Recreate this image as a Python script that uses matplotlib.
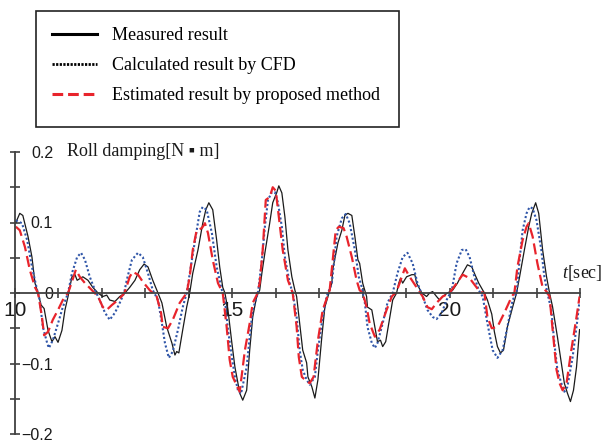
import matplotlib
matplotlib.use('Agg')
import matplotlib.pyplot as plt
from matplotlib.lines import Line2D
from matplotlib.patches import Rectangle

plt.rcParams['mathtext.fontset'] = 'custom'
plt.rcParams['mathtext.it'] = 'Liberation Serif:italic'
plt.rcParams['mathtext.rm'] = 'Liberation Serif'

# measured result (black solid)
t_meas = [10.02, 10.11, 10.18, 10.30, 10.39, 10.46, 10.53, 10.60, 10.67, 10.76,
          10.85, 10.92, 10.99, 11.08, 11.15, 11.22, 11.31, 11.38, 11.43, 11.56,
          11.68, 11.79, 11.91, 12.02, 12.11, 12.18, 12.30, 12.41, 12.53, 12.64,
          12.76, 12.87, 12.97, 13.06, 13.17, 13.29, 13.38, 13.49, 13.61, 13.68,
          13.72, 13.77, 13.86, 13.95, 14.02, 14.09, 14.21, 14.32, 14.39, 14.46,
          14.55, 14.64, 14.71, 14.78, 14.83, 14.90, 14.99, 15.06, 15.13, 15.17,
          15.24, 15.33, 15.40, 15.47, 15.56, 15.63, 15.68, 15.75, 15.86, 15.93,
          16.02, 16.07, 16.14, 16.21, 16.28, 16.37, 16.44, 16.48, 16.55, 16.62,
          16.71, 16.74, 16.83, 16.90, 16.97, 17.06, 17.13, 17.20, 17.29, 17.31,
          17.43, 17.52, 17.59, 17.66, 17.75, 17.82, 17.89, 17.93, 18.00, 18.09,
          18.11, 18.21, 18.28, 18.34, 18.41, 18.46, 18.53, 18.60, 18.69, 18.78,
          18.83, 18.87, 18.92, 19.01, 19.13, 19.20, 19.24, 19.36, 19.47, 19.54,
          19.61, 19.70, 19.77, 19.84, 19.95, 20.07, 20.18, 20.30, 20.41, 20.51,
          20.57, 20.67, 20.80, 20.87, 20.97, 21.03, 21.10, 21.17, 21.24, 21.33,
          21.45, 21.54, 21.61, 21.72, 21.82, 21.89, 21.98, 22.05, 22.14, 22.23,
          22.30, 22.37, 22.48, 22.57, 22.64, 22.71, 22.78, 22.85, 22.92, 22.99]
v_meas = [0.100, 0.113, 0.110, 0.080, 0.051, 0.014, 0.000, -0.017, -0.022, -0.053,
          -0.069, -0.062, -0.070, -0.053, -0.024, -0.005, 0.023, 0.026, 0.018, 0.023,
          0.018, 0.008, 0.000, -0.005, -0.003, -0.010, -0.012, -0.005, 0.000, 0.008,
          0.018, 0.033, 0.041, 0.037, 0.018, 0.000, -0.014, -0.048, -0.071, -0.088,
          -0.083, -0.085, -0.052, -0.020, 0.000, 0.028, 0.061, 0.099, 0.118, 0.128,
          0.118, 0.075, 0.037, 0.008, 0.000, -0.024, -0.071, -0.105, -0.128, -0.142,
          -0.152, -0.138, -0.081, -0.034, -0.005, 0.004, 0.028, 0.057, 0.099, 0.128,
          0.142, 0.152, 0.142, 0.108, 0.061, 0.023, 0.004, -0.005, -0.043, -0.081,
          -0.099, -0.119, -0.133, -0.149, -0.123, -0.062, -0.020, -0.005, 0.014, 0.033,
          0.071, 0.089, 0.110, 0.113, 0.110, 0.080, 0.047, 0.042, 0.014, -0.005,
          -0.020, -0.024, -0.048, -0.069, -0.067, -0.076, -0.069, -0.043, -0.010, 0.000,
          0.014, 0.021, 0.014, 0.023, 0.026, 0.026, 0.014, 0.000, -0.005, 0.000,
          0.002, -0.005, -0.010, -0.005, 0.000, 0.004, 0.014, 0.028, 0.040, 0.037,
          0.028, 0.014, 0.000, -0.010, -0.030, -0.055, -0.076, -0.085, -0.081, -0.048,
          -0.020, 0.000, 0.023, 0.061, 0.094, 0.113, 0.128, 0.113, 0.061, 0.023,
          0.000, -0.020, -0.062, -0.099, -0.128, -0.142, -0.154, -0.138, -0.105, -0.052]

# calculated result by CFD (blue dotted)
t_cfd = [10.02, 10.16, 10.28, 10.39, 10.51, 10.57, 10.64, 10.74, 10.78, 10.87,
         10.99, 11.10, 11.22, 11.31, 11.43, 11.52, 11.61, 11.72, 11.84, 11.95,
         12.07, 12.18, 12.30, 12.41, 12.51, 12.57, 12.69, 12.83, 12.94, 13.06,
         13.17, 13.29, 13.38, 13.45, 13.54, 13.63, 13.75, 13.86, 13.95, 14.07,
         14.18, 14.25, 14.32, 14.41, 14.53, 14.64, 14.76, 14.83, 14.90, 14.99,
         15.06, 15.13, 15.20, 15.33, 15.40, 15.47, 15.59, 15.68, 15.75, 15.82,
         15.91, 15.98, 16.05, 16.14, 16.21, 16.32, 16.39, 16.48, 16.55, 16.62,
         16.71, 16.78, 16.90, 16.97, 17.08, 17.17, 17.29, 17.40, 17.52, 17.61,
         17.70, 17.82, 17.91, 17.98, 18.05, 18.11, 18.21, 18.28, 18.34, 18.46,
         18.57, 18.69, 18.80, 18.92, 19.03, 19.15, 19.26, 19.38, 19.49, 19.61,
         19.70, 19.82, 19.93, 20.05, 20.16, 20.28, 20.37, 20.46, 20.57, 20.67,
         20.76, 20.87, 20.99, 21.10, 21.22, 21.33, 21.45, 21.54, 21.61, 21.68,
         21.77, 21.84, 21.91, 22.00, 22.11, 22.18, 22.25, 22.34, 22.41, 22.48,
         22.57, 22.64, 22.71, 22.83, 22.94, 22.99]
v_cfd = [0.103, 0.099, 0.075, 0.037, 0.004, -0.010, -0.048, -0.071, -0.078, -0.067,
         -0.043, -0.020, 0.000, 0.028, 0.051, 0.057, 0.047, 0.023, 0.004, -0.010,
         -0.028, -0.038, -0.028, -0.014, 0.000, 0.018, 0.047, 0.057, 0.051, 0.028,
         0.004, -0.010, -0.043, -0.071, -0.092, -0.083, -0.052, -0.020, 0.000, 0.047,
         0.089, 0.115, 0.122, 0.118, 0.085, 0.037, 0.004, -0.010, -0.052, -0.091,
         -0.119, -0.138, -0.143, -0.105, -0.062, -0.024, 0.000, 0.047, 0.094, 0.132,
         0.143, 0.143, 0.128, 0.094, 0.051, 0.014, 0.000, -0.034, -0.081, -0.109,
         -0.123, -0.130, -0.119, -0.081, -0.034, -0.005, 0.014, 0.080, 0.106, 0.112,
         0.099, 0.061, 0.023, 0.008, -0.014, -0.048, -0.071, -0.078, -0.071, -0.043,
         -0.014, 0.000, 0.028, 0.051, 0.057, 0.042, 0.014, -0.005, -0.024, -0.034,
         -0.037, -0.028, -0.010, 0.004, 0.042, 0.061, 0.062, 0.051, 0.023, 0.004,
         -0.005, -0.043, -0.081, -0.092, -0.081, -0.048, -0.010, 0.000, 0.047, 0.089,
         0.113, 0.122, 0.120, 0.103, 0.061, 0.023, 0.000, -0.024, -0.071, -0.109,
         -0.128, -0.140, -0.133, -0.091, -0.038, -0.010]

# estimated result by proposed method (red dashed)
t_est = [10.02, 10.11, 10.23, 10.34, 10.46, 10.53, 10.62, 10.67, 10.76, 10.87,
         10.99, 11.10, 11.22, 11.31, 11.40, 11.49, 11.61, 11.77, 11.91, 12.02,
         12.11, 12.23, 12.37, 12.48, 12.53, 12.64, 12.71, 12.83, 12.94, 13.10,
         13.26, 13.36, 13.40, 13.52, 13.63, 13.79, 13.95, 14.02, 14.09, 14.18,
         14.30, 14.37, 14.44, 14.55, 14.67, 14.78, 14.87, 14.94, 15.01, 15.13,
         15.17, 15.29, 15.40, 15.47, 15.56, 15.63, 15.70, 15.77, 15.86, 15.93,
         16.00, 16.07, 16.16, 16.28, 16.39, 16.48, 16.53, 16.60, 16.67, 16.78,
         16.87, 16.97, 17.08, 17.20, 17.24, 17.31, 17.38, 17.45, 17.56, 17.63,
         17.75, 17.86, 17.93, 18.00, 18.09, 18.16, 18.28, 18.39, 18.55, 18.67,
         18.78, 18.90, 18.97, 19.08, 19.24, 19.38, 19.49, 19.59, 19.70, 19.84,
         20.00, 20.16, 20.30, 20.46, 20.62, 20.69, 20.80, 20.87, 20.97, 21.10,
         21.26, 21.43, 21.49, 21.56, 21.68, 21.77, 21.82, 21.91, 22.02, 22.14,
         22.23, 22.30, 22.37, 22.46, 22.53, 22.60, 22.69, 22.80, 22.92, 22.99]
v_est = [0.094, 0.089, 0.065, 0.033, 0.008, 0.000, -0.034, -0.060, -0.055, -0.038,
         -0.024, -0.010, 0.000, 0.016, 0.033, 0.023, 0.014, 0.004, -0.005, -0.020,
         -0.024, -0.017, -0.010, -0.003, 0.002, 0.023, 0.030, 0.026, 0.016, 0.004,
         -0.005, -0.028, -0.048, -0.050, -0.038, -0.014, 0.000, 0.023, 0.061, 0.089,
         0.092, 0.099, 0.085, 0.047, 0.014, 0.000, -0.048, -0.095, -0.119, -0.135,
         -0.140, -0.081, -0.043, -0.014, -0.003, 0.014, 0.061, 0.132, 0.136, 0.150,
         0.145, 0.108, 0.061, 0.018, 0.000, -0.048, -0.091, -0.119, -0.123, -0.128,
         -0.119, -0.067, -0.024, -0.003, 0.004, 0.047, 0.089, 0.094, 0.092, 0.080,
         0.051, 0.018, 0.004, 0.000, -0.020, -0.043, -0.062, -0.052, -0.024, -0.005,
         0.002, 0.023, 0.035, 0.023, 0.008, -0.005, -0.020, -0.023, -0.014, -0.005,
         0.000, 0.014, 0.026, 0.021, 0.008, 0.002, 0.000, -0.034, -0.050, -0.048,
         -0.028, -0.005, 0.000, 0.037, 0.075, 0.094, 0.099, 0.080, 0.042, 0.008,
         0.002, -0.005, -0.052, -0.109, -0.128, -0.138, -0.128, -0.081, -0.034, -0.005]

labels = ['Measured result', 'Calculated result by CFD',
          'Estimated result by proposed method']
xtick_vals = [10, 11, 12, 13, 14, 15, 16, 17, 18, 19, 20, 21, 22, 23]
xtick_text = ['10', '', '', '', '', '15', '', '', '', '', '20', '', '', '']
ytick_vals = [-0.2, -0.15, -0.1, -0.05, 0, 0.05, 0.1, 0.15, 0.2]
ytick_text = ['\u22120.2', '', '\u22120.1', '', '0', '', '0.1', '', '0.2']

W, H = 603, 442
fig = plt.figure(figsize=(W / 100, H / 100), dpi=100)
ax = fig.add_axes([15 / W, 8 / H, 565 / W, 282 / H])

black = '#1a1a1a'
blue = '#2f55a8'
red = '#e8242c'
ax.plot(t_meas, v_meas, color=black, lw=0.9)
ax.plot(t_cfd, v_cfd, color=blue, lw=1.5, dashes=(1.0, 1.1))
ax.plot(t_est, v_est, color=red, lw=1.6, dashes=(5.0, 2.2))

ax.set_xlim(10, 23)
ax.set_ylim(-0.2, 0.2)
for s in ['top', 'right']:
    ax.spines[s].set_visible(False)
ax.spines['left'].set_position(('data', 10))
ax.spines['bottom'].set_position(('data', 0))
for s in ['left', 'bottom']:
    ax.spines[s].set_color('#404040')
    ax.spines[s].set_linewidth(1.3)

ax.set_xticks(xtick_vals)
ax.set_xticklabels(xtick_text, fontfamily='Liberation Sans', fontsize=15)
ax.set_yticks(ytick_vals)
ax.set_yticklabels(ytick_text, fontfamily='Liberation Sans', fontsize=11.5)
ax.tick_params(axis='x', direction='inout', length=7.2, width=1.2,
               color='#404040', pad=2.5, labelcolor='#1a1a1a')
ax.tick_params(axis='y', direction='inout', length=7.2, width=1.2,
               color='#404040', pad=-31, labelcolor='#1a1a1a')
for lab in ax.get_xticklabels():
    lab.set_clip_on(False)

fig.text(67 / W, 1 - 152 / H, 'Roll damping[N \u25aa m]',
         family=['Liberation Serif', 'DejaVu Sans'], fontsize=13,
         va='center', ha='left', color='#1a1a1a')
fig.text(603 / W, 1 - 273 / H, r'$t$[sec]', family='Liberation Serif',
         fontsize=13, va='center', ha='right', color='#1a1a1a')

# legend box
fig.patches.append(Rectangle((36 / W, 1 - 127 / H), 363 / W, 116 / H,
                             transform=fig.transFigure, fill=False,
                             edgecolor='#222222', lw=1.2))
handles = [Line2D([], [], color='black', lw=2.2),
           Line2D([], [], color='black', lw=2.0, dashes=(0.8, 0.5)),
           Line2D([], [], color=red, lw=2.2, dashes=(3.5, 1.6))]
fig.legend(handles, labels, loc='upper left',
           bbox_to_anchor=(52 / W, 1 - 27 / H), frameon=False,
           prop={'family': 'Liberation Serif', 'size': 13},
           handlelength=2.5, handletextpad=0.85, labelspacing=0.72,
           borderpad=0, borderaxespad=0)

fig.savefig('out.png', dpi=100)
